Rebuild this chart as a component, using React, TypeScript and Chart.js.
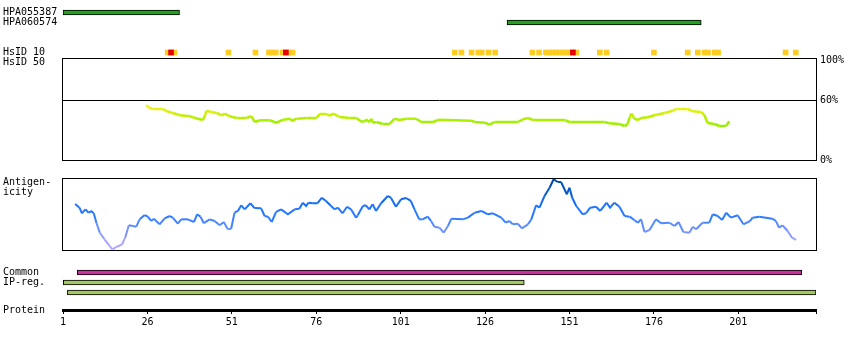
import React, { useEffect, useRef } from 'react';
import { Chart, registerables } from 'chart.js';

Chart.register(...registerables);

// ---------------- data ----------------
const proteinLength = 224;
const xTickValues = [1, 26, 51, 76, 101, 126, 151, 176, 201];

const rowLabels = ['HPA055387', 'HPA060574', 'HsID 10', 'HsID 50', 'Antigen-', 'icity', 'Common', 'IP-reg.', 'Protein'];

const antibodyNames = ['HPA055387', 'HPA060574'];
const antibodyStart = [1, 132.5];
const antibodyEnd = [35.5, 190];

const hsidResidues = [32, 33, 34, 50, 58, 62, 63, 64, 66, 67, 68, 69, 117, 119, 122, 124, 125, 127, 129, 140, 142,
  144, 145, 146, 147, 148, 149, 150, 151, 152, 153, 160, 162, 176, 186, 189, 191, 192, 194, 195, 215, 218];
const hsidRedResidues = [33, 67, 152];

const identityResidues = [25.6, 26.7, 27.6, 30.6, 31.8, 33.5, 35.6, 38.6, 40.1, 42.4, 43.0, 43.5, 45.0, 46.5, 48.0,
  48.9, 50.4, 52.4, 55.3, 56.8, 57.8, 59.3, 62.2, 64.2, 66.2, 68.2, 69.0, 70.1, 73.1, 76.1, 77.0, 79.0, 80.0, 81.0,
  83.0, 85.9, 87.9, 88.9, 89.8, 90.9, 91.8, 92.3, 92.8, 93.8, 95.7, 97.7, 99.2, 100.7, 102.7, 105.6, 107.1, 110.6,
  112.3, 121.9, 122.9, 125.9, 127.3, 128.8, 135.7, 137.2, 138.7, 140.1, 149.5, 151.0, 161.4, 162.8, 165.8, 167.3,
  168.1, 168.8, 169.3, 170.2, 171.2, 172.2, 174.2, 176.1, 179.1, 181.6, 182.6, 186.0, 187.5, 190.0, 190.9, 191.9,
  193.9, 195.4, 197.4, 198.3];
const identityValues = [54.7, 52.0, 51.0, 51.0, 48.7, 47.0, 44.7, 43.7, 42.0, 40.0, 44.0, 49.3, 48.0, 47.0, 44.7,
  46.3, 43.7, 42.0, 42.0, 43.7, 38.0, 39.7, 39.7, 37.3, 40.3, 41.3, 39.3, 41.3, 42.0, 42.0, 46.0, 46.0, 44.3, 46.3,
  43.0, 42.0, 42.0, 39.3, 38.0, 40.0, 38.0, 41.3, 37.3, 38.0, 36.0, 36.0, 41.3, 40.0, 41.3, 41.3, 38.0, 38.0,
  40.3, 39.3, 38.0, 37.3, 35.3, 38.0, 38.0, 40.7, 42.0, 40.0, 40.0, 38.0, 38.0, 36.7, 36.0, 34.0,
  35.3, 42.0, 46.7, 41.3, 40.0, 42.0, 42.7, 44.7, 47.0, 49.3, 51.0, 51.0, 48.7, 48.0, 45.3, 37.0,
  36.0, 34.0, 34.0, 38.7];

const antigenResidues = [4.6, 5.9, 6.6, 7.6, 8.6, 9.4, 10.1, 10.9, 11.9, 13.3,
  14.8, 15.6, 16.8, 18.5, 19.4, 20.5, 21.7, 22.7, 23.7, 25.2,
  26.1, 27.1, 27.9, 29.6, 31.1, 32.6, 33.5, 35.0, 36.0, 38.0,
  39.8, 40.7, 41.7, 42.7, 44.4, 45.9, 47.4, 48.6, 49.8, 50.8,
  51.8, 52.8, 53.8, 54.8, 56.5, 57.7, 59.7, 60.7, 61.7, 62.8,
  64.1, 65.6, 67.6, 69.6, 71.0, 72.0, 73.0, 73.7, 75.0, 76.4,
  77.6, 78.9, 80.4, 81.4, 82.4, 83.8, 85.1, 86.3, 87.8, 88.3,
  89.8, 90.7, 91.7, 92.7, 93.7, 95.2, 97.2, 98.1, 99.6, 101.1,
  102.6, 104.0, 105.1, 106.5, 107.5, 109.0, 110.0, 111.0, 112.5, 113.7,
  115.0, 116.0, 119.4, 120.9, 122.9, 124.9, 126.8, 128.3, 130.8, 132.1,
  133.2, 134.2, 135.7, 136.9, 138.7, 139.7, 141.1, 142.1, 143.6, 145.1,
  146.3, 147.5, 148.5, 150.2, 151.0, 151.8, 153.0, 154.9, 155.9, 157.1,
  158.9, 160.1, 162.0, 163.0, 164.3, 165.8, 167.3, 168.8, 170.2, 171.2,
  172.2, 173.2, 174.7, 176.6, 178.1, 180.6, 182.1, 183.3, 184.7, 186.5,
  187.5, 188.5, 190.4, 192.4, 193.4, 194.9, 196.2, 197.4, 198.8, 200.8,
  202.5, 204.5, 205.2, 207.2, 211.1, 212.1, 213.1, 214.1, 215.6, 216.9,
  218.1];
const antigenValues = [63.9, 58.8, 51.0, 56.5, 51.8, 53.8, 51.0, 37.9, 24.0, 14.9,
  5.6, 1.0, 4.2, 7.9, 17.1, 34.3, 33.3, 32.4, 42.6, 48.6,
  46.3, 40.3, 43.5, 35.7, 44.0, 47.2, 44.9, 36.5, 42.6, 42.6,
  38.9, 49.6, 46.3, 37.1, 42.6, 40.3, 34.3, 38.9, 28.8, 29.6,
  51.8, 54.2, 62.1, 56.5, 64.9, 58.3, 57.9, 47.2, 46.3, 38.9,
  52.8, 56.5, 49.6, 56.5, 57.4, 65.7, 61.1, 65.7, 64.9, 64.9,
  72.6, 68.1, 61.1, 56.5, 58.8, 51.0, 60.1, 56.5, 44.9, 48.2,
  61.1, 62.1, 56.5, 63.5, 54.2, 64.9, 75.0, 72.6, 60.1, 70.4,
  72.2, 68.1, 56.5, 42.6, 42.6, 46.3, 40.3, 32.4, 31.0, 24.0,
  33.3, 43.5, 42.6, 44.9, 51.8, 54.2, 49.6, 51.0, 44.9, 37.9,
  40.3, 35.7, 36.5, 30.1, 35.7, 42.6, 62.1, 58.8, 75.0, 86.5,
  98.2, 94.4, 94.4, 77.4, 86.5, 72.6, 61.1, 49.6, 51.0, 58.8,
  60.1, 54.2, 65.7, 58.8, 65.7, 60.1, 47.2, 46.3, 41.7, 37.9,
  42.6, 25.0, 27.8, 42.6, 37.1, 37.9, 33.3, 38.9, 25.0, 24.0,
  32.4, 28.8, 37.9, 37.9, 49.6, 47.2, 41.7, 51.8, 44.9, 48.2,
  35.7, 40.3, 44.9, 46.3, 43.5, 40.3, 31.0, 34.3, 26.4, 17.1,
  13.9];

const commonStart = [5.2];
const commonEnd = [219.8];
const ipRegStart = [1.1, 2.3];
const ipRegEnd = [137.6, 224];

const identityTicks = [0, 60, 100];

// ---------------- layout / style ----------------
const ROW = { antibody: [1, 2], hsid: 5, common: 27, ipReg: [28, 29] };
const ROW_LABEL_POS = [1, 2, 5, 6, 18, 19, 27, 28, 30.75];
const AREA_TOP = 0;
const AREA_BOTTOM = 310;
const HSID_HALF = 0.74;
const ID_BOX_TOP_PX = 58;

const FONT = { family: '"DejaVu Sans Mono", monospace', size: 10 };

const ID_STOPS: [number, string][] = [[34, '#98EE00'], [39, '#A6F000'], [44, '#C2F000'], [49, '#DEF010'], [53, '#F2F022']];
const AG_STOPS: [number, string][] = [[0, '#B4A8FF'], [12, '#A6A4FF'], [25, '#8094FF'], [35, '#5A8CFF'], [45, '#2E7CFF'],
  [60, '#1E74FF'], [75, '#0A62E0'], [88, '#0052B4'], [98, '#00458C']];

function hexToRgb(h: string) {
  const n = parseInt(h.slice(1), 16);
  return [(n >> 16) & 255, (n >> 8) & 255, n & 255];
}
function rampColor(stops: [number, string][], v: number) {
  if (v <= stops[0][0]) return stops[0][1];
  for (let i = 1; i < stops.length; i++) {
    if (v <= stops[i][0]) {
      const [v0, c0] = stops[i - 1];
      const [v1, c1] = stops[i];
      const t = (v - v0) / (v1 - v0);
      const a = hexToRgb(c0), b = hexToRgb(c1);
      return `rgb(${a.map((x, k) => Math.round(x + (b[k] - x) * t)).join(',')})`;
    }
  }
  return stops[stops.length - 1][1];
}
// axis range so that value v0 sits at pixel p0 and v1 at pixel p1
function band(v0: number, v1: number, p0: number, p1: number) {
  const s = (p0 - p1) / (v1 - v0);
  return { min: v0 - (AREA_BOTTOM - p0) / s, max: v1 + (p1 - AREA_TOP) / s };
}
const idRange = band(0, 100, 160, 60);
const agRange = band(0, 100, 250, 178);

const panelBoxes = {
  id: 'panelBoxes',
  beforeDatasetsDraw(chart: any) {
    const { ctx, scales } = chart;
    const left = Math.round(scales.x.getPixelForValue(1)) - 0.5;
    const right = Math.round(scales.x.getPixelForValue(proteinLength)) + 0.5;
    const boxes = [
      { top: ID_BOX_TOP_PX, bottom: scales.yId.getPixelForValue(0) },
      { top: scales.yAg.getPixelForValue(100), bottom: scales.yAg.getPixelForValue(0) },
    ];
    boxes.forEach((b) => {
      const top = Math.round(b.top) + 0.5;
      const bottom = Math.round(b.bottom) + 0.5;
      ctx.save();
      ctx.strokeStyle = '#000';
      ctx.lineWidth = 1;
      ctx.strokeRect(left, top, right - left, bottom - top);
      ctx.restore();
    });
  },
};

const barCommon = {
  type: 'bar' as const,
  indexAxis: 'y' as const,
  xAxisID: 'x',
  yAxisID: 'yRows',
  grouped: false,
  barPercentage: 1,
  categoryPercentage: 1,
  maxBarThickness: 5,
  borderSkipped: false,
};

export default function App() {
  const ref = useRef<HTMLCanvasElement>(null);

  useEffect(() => {
    if (!ref.current) return;
    const chart = new Chart(ref.current, {
      type: 'line',
      data: {
        datasets: [
          {
            ...barCommon,
            label: 'Antibodies',
            data: antibodyNames.map((_, i) => ({ x: [antibodyStart[i], antibodyEnd[i]], y: ROW.antibody[i] })),
            backgroundColor: '#22A022',
            borderColor: '#000',
            borderWidth: 1,
          } as any,
          {
            ...barCommon,
            label: 'HsID 10 high',
            data: hsidRedResidues.map((r) => ({ x: [r - HSID_HALF, r + HSID_HALF], y: ROW.hsid })),
            backgroundColor: '#E60000',
            borderWidth: 0,
          } as any,
          {
            ...barCommon,
            label: 'HsID 10',
            data: hsidResidues.map((r) => ({ x: [r - HSID_HALF, r + HSID_HALF], y: ROW.hsid })),
            backgroundColor: '#FFCC22',
            borderWidth: 0,
          } as any,
          {
            ...barCommon,
            label: 'Common',
            data: commonStart.map((s, i) => ({ x: [s, commonEnd[i]], y: ROW.common })),
            backgroundColor: '#C8329E',
            borderColor: '#000',
            borderWidth: 1,
          } as any,
          {
            ...barCommon,
            label: 'IP-reg.',
            data: ipRegStart.map((s, i) => ({ x: [s, ipRegEnd[i]], y: ROW.ipReg[i] })),
            backgroundColor: '#A2C864',
            borderColor: '#000',
            borderWidth: 1,
          } as any,
          {
            type: 'line',
            label: 'Identity',
            data: identityResidues.map((r, i) => ({ x: r, y: identityValues[i] })),
            xAxisID: 'x',
            yAxisID: 'yId',
            borderWidth: 2.5,
            borderColor: '#B0F000',
            pointRadius: 0,
            tension: 0,
            fill: false,
            segment: { borderColor: (c: any) => rampColor(ID_STOPS, (c.p0.parsed.y + c.p1.parsed.y) / 2) },
          } as any,
          {
            type: 'line',
            label: 'Antigenicity',
            data: antigenResidues.map((r, i) => ({ x: r, y: antigenValues[i] })),
            xAxisID: 'x',
            yAxisID: 'yAg',
            borderWidth: 2,
            borderColor: '#2277FF',
            pointRadius: 0,
            tension: 0,
            fill: false,
            segment: { borderColor: (c: any) => rampColor(AG_STOPS, (c.p0.parsed.y + c.p1.parsed.y) / 2) },
          } as any,
        ],
      },
      options: {
        responsive: false,
        devicePixelRatio: 1,
        animation: false,
        events: [],
        layout: { padding: { left: 3, right: 0, top: 0, bottom: 0 } },
        plugins: { legend: { display: false }, tooltip: { enabled: false } },
        scales: {
          x: {
            type: 'linear',
            min: 1,
            max: proteinLength,
            offset: false,
            afterBuildTicks: (s: any) => { s.ticks = [...xTickValues, proteinLength].map((v) => ({ value: v })); },
            afterFit: (s: any) => { s.height = 40; s.paddingLeft = 0; s.paddingRight = 0; },
            grid: { drawOnChartArea: false, drawTicks: true, tickLength: 4, color: '#000', lineWidth: 1, offset: false },
            border: { display: true, color: '#000', width: 3 },
            ticks: {
              autoSkip: false, maxRotation: 0, padding: 2, color: '#000', font: FONT,
              callback: (v: any) => (v === proteinLength ? '' : String(v)),
            },
          },
          yRows: {
            type: 'linear',
            axis: 'y',
            position: 'left',
            reverse: true,
            min: -0.25,
            max: 30.75,
            offset: false,
            afterBuildTicks: (s: any) => { s.ticks = ROW_LABEL_POS.map((v) => ({ value: v })); },
            afterFit: (s: any) => { s.width = 60; s.paddingTop = 0; s.paddingBottom = 0; },
            grid: { display: false, offset: false },
            border: { display: false },
            ticks: {
              autoSkip: false, crossAlign: 'far', color: '#000', font: FONT,
              callback: (_v: any, i: number) => rowLabels[i],
            },
          },
          yId: {
            type: 'linear',
            axis: 'y',
            position: 'right',
            min: idRange.min,
            max: idRange.max,
            afterBuildTicks: (s: any) => { s.ticks = identityTicks.map((v) => ({ value: v })); },
            afterFit: (s: any) => { s.width = 34; s.paddingTop = 0; s.paddingBottom = 0; },
            grid: {
              drawTicks: false,
              lineWidth: 1,
              color: (c: any) => (c.tick && c.tick.value === 60 ? '#000' : 'rgba(0,0,0,0)'),
            },
            border: { display: false },
            ticks: { autoSkip: false, padding: 4, color: '#000', font: FONT, callback: (v: any) => v + '%' },
          },
          yAg: {
            type: 'linear',
            axis: 'y',
            position: 'left',
            display: false,
            min: agRange.min,
            max: agRange.max,
          },
        } as any,
      },
      plugins: [panelBoxes],
    } as any);
    return () => chart.destroy();
  }, []);

  return (
    <div style={{ position: 'fixed', left: 0, top: 0, width: 850, height: 350, background: '#fff' }}>
      <canvas ref={ref} width={850} height={350} style={{ display: 'block' }} />
    </div>
  );
}
